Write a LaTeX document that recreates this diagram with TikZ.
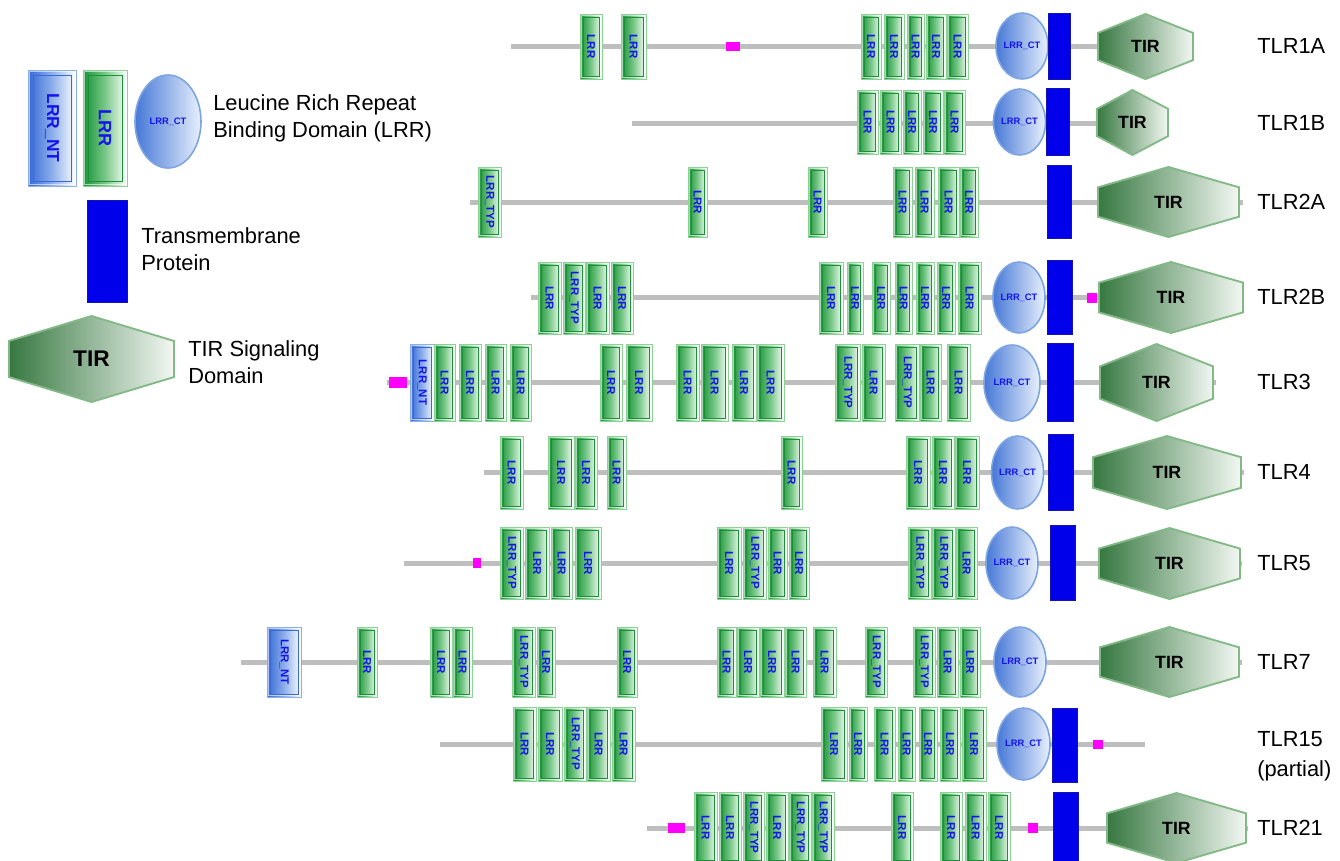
\documentclass[tikz,border=0pt]{standalone}
\usepackage{fontspec}
\setmainfont{Liberation Sans}
\usetikzlibrary{shapes.geometric}
\definecolor{lrrdark}{RGB}{25,145,55}
\definecolor{lrrmid}{RGB}{120,200,135}
\definecolor{lrrlight}{RGB}{140,210,150}
\definecolor{ntdark}{RGB}{55,105,215}
\definecolor{ntmid}{RGB}{140,175,235}
\definecolor{ntlight}{RGB}{140,175,230}
\definecolor{ctdark}{RGB}{70,120,215}
\definecolor{ctlight}{RGB}{232,240,252}
\definecolor{ctborder}{RGB}{125,165,225}
\definecolor{tmblue}{RGB}{0,0,235}
\definecolor{tmborder}{RGB}{20,20,170}
\definecolor{tirdark}{RGB}{55,120,65}
\definecolor{tirlight}{RGB}{242,247,242}
\definecolor{tirborder}{RGB}{130,185,135}
\definecolor{magent}{RGB}{255,0,255}
\definecolor{linegray}{RGB}{190,190,190}
\definecolor{textblue}{RGB}{20,20,235}
\newcommand\ins{2.2pt}
\newcommand\rt[1]{\rotatebox{-90}{#1}}
\newcommand\rnode[7]{\node[#1, minimum width={(#4-#3)*0.75pt}, minimum height={(#6-#5)*0.75pt}] (#2) at ({(#3+#4)/2},{(#5+#6)/2}) {#7};}
\newcommand\lrr[4]{\rnode{lrrg}{#1}{#2}{#3}{\yt}{\yb}{\rt{#4}}}
\newcommand\nterm[4]{\rnode{lrrb}{#1}{#2}{#3}{\yt}{\yb}{\rt{#4}}}
\newcommand\ctn[5]{\rnode{ctst}{#1}{#2}{#3}{#4}{#5}{LRR\_CT}}
\newcommand\tmn[5]{\rnode{tmst}{#1}{#2}{#3}{#4}{#5}{}}
\newcommand\magn[5]{\rnode{magst}{#1}{#2}{#3}{#4}{#5}{}}
\newcommand\tirn[6]{%
  \pgfmathsetmacro\xc{(#2+#3)/2}\pgfmathsetmacro\yc{(#4+#5)/2}\pgfmathsetmacro\kk{0.42*(#5-#4)/2}%
  \draw[tirst] (\xc,#4) -- (#3,\yc-\kk) -- (#3,\yc+\kk) -- (\xc,#5) -- (#2,\yc+\kk) -- (#2,\yc-\kk) -- cycle;
  \node[font=\bfseries\fontsize{#6}{#6}\selectfont] (#1) at (\xc,\yc) {TIR};}
\newcommand\lab[3]{\node[labst] (#1) at (1257,#2) {#3};}
\begin{document}
\begin{tikzpicture}[x=0.75pt,y=-0.75pt,
  boxbase/.style={rectangle, inner sep=0pt, outer sep=0pt, line width=0.7pt, text=textblue,
     font=\bfseries\fontsize{8.6}{9}\selectfont},
  lrrg/.style={boxbase, draw=lrrlight, left color=lrrdark, right color=white, middle color=lrrmid,
     path picture={\draw[white, line width=1.3pt, opacity=0.6] ([shift={(1.1pt,-1.1pt)}]path picture bounding box.north west) rectangle ([shift={(-1.1pt,1.1pt)}]path picture bounding box.south east);
       \draw[lrrdark, line width=0.6pt] ([shift={(\ins,-\ins)}]path picture bounding box.north west) rectangle ([shift={(-\ins,\ins)}]path picture bounding box.south east);}},
  lrrb/.style={boxbase, draw=ntlight, left color=ntdark, right color=white, middle color=ntmid,
     path picture={\draw[white, line width=1.3pt, opacity=0.6] ([shift={(1.1pt,-1.1pt)}]path picture bounding box.north west) rectangle ([shift={(-1.1pt,1.1pt)}]path picture bounding box.south east);
       \draw[ntdark, line width=0.6pt] ([shift={(\ins,-\ins)}]path picture bounding box.north west) rectangle ([shift={(-\ins,\ins)}]path picture bounding box.south east);}},
  ctst/.style={ellipse, inner sep=0pt, outer sep=0pt, draw=ctborder, line width=1.2pt, left color=ctdark, right color=ctlight, text=textblue, font=\bfseries\fontsize{7}{7}\selectfont},
  tmst/.style={rectangle, inner sep=0pt, outer sep=0pt, fill=tmblue, draw=tmborder, line width=0.5pt},
  magst/.style={rectangle, inner sep=0pt, outer sep=0pt, fill=magent},
  tirst/.style={draw=tirborder, line width=1.4pt, line join=miter, left color=tirdark, right color=tirlight},
  bb/.style={draw=linegray, line width=3.75pt},
  labst/.style={anchor=west, inner sep=0pt, font=\fontsize{16.4}{20}\selectfont, align=left},
  legst/.style={anchor=west, inner sep=0pt, font=\fontsize{16.4}{20.3}\selectfont, align=left}]
\useasboundingbox (0,0) rectangle (1340,861);
\clip (0,0) rectangle (1340,861);
% ---------- backbones ----------
\coordinate (s1) at (511,46);  \coordinate (e1) at (1100,46);
\coordinate (s2) at (632,123); \coordinate (e2) at (1099,123);
\coordinate (s3) at (470,202); \coordinate (e3) at (1243,202);
\coordinate (s4) at (531,297); \coordinate (e4) at (1101,297);
\coordinate (s5) at (387,382); \coordinate (e5) at (1216,382);
\coordinate (s6) at (484,472); \coordinate (e6) at (1244,472);
\coordinate (s7) at (404,563); \coordinate (e7) at (1242,563);
\coordinate (s8) at (241,662); \coordinate (e8) at (1242,662);
\coordinate (s9) at (440,744); \coordinate (e9) at (1145,744);
\coordinate (s10) at (647,828); \coordinate (e10) at (1248,828);
\foreach \i in {1,...,10} {\draw[bb] (s\i) -- (e\i);}
% ---------- legend ----------
\begin{scope}
\renewcommand\ins{3.8pt}
\rnode{lrrb, font=\bfseries\fontsize{13}{13}\selectfont}{legnt}{28}{76}{70}{186}{\rt{LRR\_NT}}
\rnode{lrrg, font=\bfseries\fontsize{13.5}{13}\selectfont}{leglrr}{83}{127}{70}{186}{\rt{LRR}}
\end{scope}
\ctn{legct}{135}{201}{75}{168}
\node[legst] (legt1) at (213,118.5) {Leucine Rich Repeat\\Binding Domain (LRR)};
\tmn{legtm}{87}{127}{200}{302}
\node[legst] (legt2) at (141,249.5) {Transmembrane\\Protein};
\tirn{legtir}{9}{174}{316}{402}{17}
\node[legst] (legt3) at (188,362) {TIR Signaling\\Domain};
% ---------- TLR1A ----------
\def\yt{14}\def\yb{79}
\lrr{a1}{580}{602}{LRR}\lrr{a2}{621}{646}{LRR}
\magn{am}{726}{740}{42}{51}
\lrr{a3}{861}{881}{LRR}\lrr{a4}{884}{904}{LRR}\lrr{a5}{907}{924}{LRR}\lrr{a6}{926}{946}{LRR}\lrr{a7}{947}{968}{LRR}
\ctn{act}{998}{1046}{13}{79}
\tmn{atm}{1048}{1070}{13}{79}
\tirn{atir}{1098}{1193}{14}{79}{13.3}
\lab{al}{46}{TLR1A}
% ---------- TLR1B ----------
\def\yt{90}\def\yb{154}
\lrr{b1}{857}{878}{LRR}\lrr{b2}{880}{901}{LRR}\lrr{b3}{903}{921}{LRR}\lrr{b4}{923}{943}{LRR}\lrr{b5}{944}{965}{LRR}
\ctn{bct}{996}{1043}{89}{155}
\tmn{btm}{1046}{1069}{88}{155}
\tirn{btir}{1097}{1168}{90}{155}{13.3}
\lab{bl}{123}{TLR1B}
% ---------- TLR2A ----------
\def\yt{167}\def\yb{237}
\lrr{c1}{478}{501}{LRR\_TYP}\lrr{c2}{688}{707}{LRR}\lrr{c3}{808}{827}{LRR}
\lrr{c4}{893}{912}{LRR}\lrr{c5}{915}{934}{LRR}\lrr{c6}{938}{959}{LRR}\lrr{c7}{960}{978}{LRR}
\tmn{ctm}{1047}{1071}{165}{238}
\tirn{ctir}{1098}{1239}{167}{237}{13.3}
\lab{cl}{202}{TLR2A}
% ---------- TLR2B ----------
\def\yt{262}\def\yb{334}
\lrr{d1}{538}{561}{LRR}\lrr{d2}{563}{585}{LRR\_TYP}\lrr{d3}{586}{609}{LRR}\lrr{d4}{611}{633}{LRR}
\lrr{d5}{819}{843}{LRR}\lrr{d6}{847}{863}{LRR}\lrr{d7}{872}{890}{LRR}\lrr{d8}{895}{912}{LRR}
\lrr{d9}{916}{934}{LRR}\lrr{d10}{937}{955}{LRR}\lrr{d11}{958}{981}{LRR}
\ctn{dct}{993}{1045}{262}{333}
\tmn{dtm}{1047}{1072}{260}{334}
\magn{dm}{1087}{1097}{293}{303}
\tirn{dtir}{1099}{1243}{262}{333}{13.3}
\lab{dl}{297}{TLR2B}
% ---------- TLR3 ----------
\def\yt{344}\def\yb{421}
\magn{em}{389}{407}{377}{388}
\nterm{e0}{410}{434}{LRR\_NT}
\lrr{e1}{434}{455}{LRR}\lrr{e2}{459}{481}{LRR}\lrr{e3}{485}{506}{LRR}\lrr{e4}{510}{531}{LRR}
\lrr{e5}{600}{622}{LRR}\lrr{e6}{626}{652}{LRR}
\lrr{e7}{676}{699}{LRR}\lrr{e8}{701}{728}{LRR}\lrr{e9}{732}{756}{LRR}\lrr{e10}{757}{784}{LRR}
\lrr{e11}{835}{860}{LRR\_TYP}\lrr{e12}{862}{885}{LRR}\lrr{e13}{895}{919}{LRR\_TYP}\lrr{e14}{920}{941}{LRR}\lrr{e15}{947}{970}{LRR}
\ctn{ect}{984}{1040}{345}{421}
\tmn{etm}{1047}{1073}{343}{421}
\tirn{etir}{1100}{1213}{344}{421}{13.3}
\lab{el}{382}{TLR3}
% ---------- TLR4 ----------
\def\yt{436}\def\yb{509}
\lrr{f1}{500}{523}{LRR}\lrr{f2}{548}{574}{LRR}\lrr{f3}{575}{597}{LRR}\lrr{f4}{607}{626}{LRR}
\lrr{f5}{781}{802}{LRR}\lrr{f6}{906}{930}{LRR}\lrr{f7}{932}{954}{LRR}\lrr{f8}{955}{979}{LRR}
\ctn{fct}{992}{1043}{436}{509}
\tmn{ftm}{1048}{1073}{434}{510}
\tirn{ftir}{1093}{1241}{436}{509}{13.3}
\lab{fl}{472}{TLR4}
% ---------- TLR5 ----------
\def\yt{527}\def\yb{599}
\magn{gm}{473}{481}{558}{568}
\lrr{g1}{500}{523}{LRR\_TYP}\lrr{g2}{525}{549}{LRR}\lrr{g3}{551}{572}{LRR}\lrr{g4}{575}{601}{LRR}
\lrr{g5}{717}{741}{LRR}\lrr{g6}{743}{766}{LRR\_TYP}\lrr{g7}{768}{787}{LRR}\lrr{g8}{789}{809}{LRR}
\lrr{g9}{908}{931}{LRR\_TYP}\lrr{g10}{932}{955}{LRR\_TYP}\lrr{g11}{956}{977}{LRR}
\ctn{gct}{986}{1038}{527}{599}
\tmn{gtm}{1050}{1075}{525}{600}
\tirn{gtir}{1099}{1240}{528}{599}{13.3}
\lab{gl}{563}{TLR5}
% ---------- TLR7 ----------
\def\yt{627}\def\yb{697}
\nterm{h0}{267}{301}{LRR\_NT}
\lrr{h1}{357}{377}{LRR}\lrr{h2}{430}{452}{LRR}\lrr{h3}{453}{472}{LRR}
\lrr{h4}{512}{535}{LRR\_TYP}\lrr{h5}{537}{555}{LRR}\lrr{h6}{617}{637}{LRR}
\lrr{h7}{717}{736}{LRR}\lrr{h8}{737}{759}{LRR}\lrr{h9}{760}{784}{LRR}\lrr{h10}{785}{806}{LRR}
\lrr{h11}{813}{836}{LRR}\lrr{h12}{865}{887}{LRR\_TYP}
\lrr{h13}{913}{935}{LRR\_TYP}\lrr{h14}{937}{958}{LRR}\lrr{h15}{960}{980}{LRR}
\ctn{hct}{995}{1045}{627}{697}
\tirn{htir}{1100}{1239}{627}{697}{13.3}
\lab{hl}{662}{TLR7}
% ---------- TLR15 ----------
\def\yt{707}\def\yb{781}
\lrr{i1}{513}{536}{LRR}\lrr{i2}{538}{562}{LRR}\lrr{i3}{564}{586}{LRR\_TYP}\lrr{i4}{587}{610}{LRR}\lrr{i5}{612}{635}{LRR}
\lrr{i6}{821}{847}{LRR}\lrr{i7}{849}{867}{LRR}\lrr{i8}{874}{895}{LRR}\lrr{i9}{898}{915}{LRR}
\lrr{i10}{919}{937}{LRR}\lrr{i11}{940}{960}{LRR}\lrr{i12}{962}{986}{LRR}
\ctn{ict}{997}{1050}{708}{780}
\tmn{itm}{1052}{1077}{708}{782}
\magn{im}{1093}{1103}{740}{749}
\node[labst, font=\fontsize{16.4}{22.5}\selectfont] (il) at (1257,756) {TLR15\\(partial)};
% ---------- TLR21 ----------
\def\yt{792}\def\yb{863}
\magn{jm}{668}{685}{823}{833}
\lrr{j1}{694}{717}{LRR}\lrr{j2}{719}{741}{LRR}\lrr{j3}{743}{764}{LRR\_TYP}\lrr{j4}{766}{788}{LRR}
\lrr{j5}{789}{811}{LRR\_TYP}\lrr{j6}{812}{834}{LRR\_TYP}
\lrr{j7}{891}{913}{LRR}\lrr{j8}{940}{962}{LRR}\lrr{j9}{965}{986}{LRR}\lrr{j10}{988}{1010}{LRR}
\magn{jm2}{1028}{1038}{823}{833}
\tmn{jtm}{1053}{1078}{792}{863}
\tirn{jtir}{1107}{1246}{793}{863}{13.3}
\lab{jl}{828}{TLR21}
\end{tikzpicture}
\end{document}
